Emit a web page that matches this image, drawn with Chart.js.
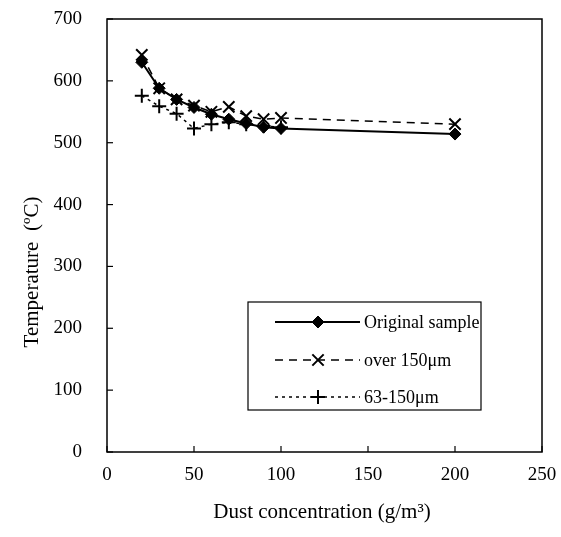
<!DOCTYPE html>
<html>
<head>
<meta charset="utf-8">
<script src="https://cdn.jsdelivr.net/npm/chart.js@4"></script>
<style>
  html, body { margin: 0; padding: 0; background: #fff; }
  #wrap { width: 561px; height: 537px; }
</style>
</head>
<body>
<div id="wrap"><canvas id="chartCanvas" width="561" height="537"></canvas></div>
<script>
// Dust concentration (g/m3)
const concOriginal = [20, 30, 40, 50, 60, 70, 80, 90, 100, 200];
const concOver150 = [20, 30, 40, 50, 60, 70, 80, 90, 100, 200];
const concFine = [20, 30, 40, 50, 60, 70, 80, 90, 100];

// Minimum ignition temperature (C)
const tempOriginal = [630, 588, 570, 557, 546, 538, 531, 525, 523, 514];
const tempOver150 = [642, 588, 570, 560, 550, 558, 543, 538, 540, 530];
const tempFine = [576, 559, 547, 523, 530, 533, 530, 527, 525];

const seriesLabels = ['Original sample', 'over 150\u03bcm', '63-150\u03bcm'];
const xTicks = [0, 50, 100, 150, 200, 250];
const yTicks = [0, 100, 200, 300, 400, 500, 600, 700];

const FONT = '"Liberation Serif", "Times New Roman", serif';

function toPoints(xs, ys) {
  return xs.map((x, i) => ({ x: x, y: ys[i] }));
}

// box around the plot, inward ticks, axis titles and the legend box
const framePlugin = {
  id: 'frame',
  afterDraw(chart) {
    const ctx = chart.ctx;
    const area = chart.chartArea;
    const xs = chart.scales.x;
    const ys = chart.scales.y;
    ctx.save();
    ctx.strokeStyle = '#000';
    ctx.lineWidth = 1.5;
    ctx.strokeRect(area.left, area.top, area.right - area.left, area.bottom - area.top);

    ctx.lineWidth = 1.2;
    yTicks.forEach(v => {
      const py = ys.getPixelForValue(v);
      ctx.beginPath();
      ctx.moveTo(area.left, py);
      ctx.lineTo(area.left + 6, py);
      ctx.stroke();
    });
    xTicks.forEach(v => {
      const px = xs.getPixelForValue(v);
      ctx.beginPath();
      ctx.moveTo(px, area.bottom);
      ctx.lineTo(px, area.bottom - 6);
      ctx.stroke();
    });

    // axis titles
    ctx.fillStyle = '#000';
    ctx.font = '21px ' + FONT;
    ctx.textAlign = 'center';
    ctx.textBaseline = 'middle';
    ctx.fillText('Dust concentration (g/m\u00b3)', 322, 512);
    ctx.save();
    ctx.translate(32, 272);
    ctx.rotate(-Math.PI / 2);
    ctx.fillText('Temperature  (\u00baC)', 0, 0);
    ctx.restore();

    // legend
    const lx = 248, ly = 302, lw = 233, lh = 108;
    ctx.lineWidth = 1.2;
    ctx.strokeRect(lx, ly, lw, lh);
    const rows = [322, 360, 397];
    ctx.font = '18px ' + FONT;
    ctx.textAlign = 'left';
    chart.data.datasets.forEach((ds, i) => {
      const y = rows[i];
      ctx.save();
      ctx.strokeStyle = '#000';
      ctx.lineWidth = ds.borderWidth;
      ctx.setLineDash(ds.borderDash || []);
      ctx.beginPath();
      ctx.moveTo(275, y);
      ctx.lineTo(360, y);
      ctx.stroke();
      ctx.setLineDash([]);
      Chart.helpers.drawPoint(ctx, {
        pointStyle: ds.pointStyle,
        radius: ds.pointRadius,
        borderWidth: ds.pointBorderWidth,
        rotation: 0
      }, 318, y);
      ctx.restore();
      ctx.fillStyle = '#000';
      ctx.fillText(seriesLabels[i], 364, y + 1);
    });
    ctx.restore();
  }
};

// drawPoint needs fill/stroke styles set on the context
Chart.helpers.drawPoint = (function (orig) {
  return function (ctx, options, x, y) {
    ctx.fillStyle = '#000';
    ctx.strokeStyle = '#000';
    ctx.lineWidth = options.borderWidth;
    return orig(ctx, options, x, y);
  };
})(Chart.helpers.drawPoint);

new Chart(document.getElementById('chartCanvas'), {
  type: 'scatter',
  data: {
    datasets: [
      {
        label: seriesLabels[0],
        data: toPoints(concOriginal, tempOriginal),
        showLine: true,
        borderColor: '#000',
        backgroundColor: '#000',
        borderWidth: 2,
        pointStyle: 'rectRot',
        pointRadius: 6,
        pointBorderWidth: 1,
        pointBackgroundColor: '#000',
        pointBorderColor: '#000'
      },
      {
        label: seriesLabels[1],
        data: toPoints(concOver150, tempOver150),
        showLine: true,
        borderColor: '#000',
        backgroundColor: '#000',
        borderWidth: 1.5,
        borderDash: [8, 6],
        pointStyle: 'crossRot',
        pointRadius: 8,
        pointBorderWidth: 2,
        pointBorderColor: '#000'
      },
      {
        label: seriesLabels[2],
        data: toPoints(concFine, tempFine),
        showLine: true,
        borderColor: '#000',
        backgroundColor: '#000',
        borderWidth: 1.5,
        borderDash: [3, 4],
        pointStyle: 'cross',
        pointRadius: 7,
        pointBorderWidth: 2,
        pointBorderColor: '#000'
      }
    ]
  },
  options: {
    responsive: false,
    animation: false,
    layout: { padding: { top: 19, right: 19, left: 0, bottom: 0 } },
    plugins: {
      legend: { display: false },
      tooltip: { enabled: false }
    },
    scales: {
      x: {
        type: 'linear',
        min: 0,
        max: 250,
        afterBuildTicks: s => { s.ticks = xTicks.map(v => ({ value: v })); },
        afterFit: s => { s.height = 85; s.paddingLeft = 0; s.paddingRight = 0; },
        grid: { display: false, drawTicks: false },
        border: { display: false },
        ticks: { color: '#000', padding: 12, font: { family: FONT, size: 19 } }
      },
      y: {
        type: 'linear',
        min: 0,
        max: 700,
        afterBuildTicks: s => { s.ticks = yTicks.map(v => ({ value: v })); },
        afterFit: s => { s.width = 107; s.paddingTop = 0; s.paddingBottom = 0; },
        grid: { display: false, drawTicks: false },
        border: { display: false },
        ticks: { color: '#000', padding: 25, font: { family: FONT, size: 19 } }
      }
    }
  },
  plugins: [framePlugin]
});
</script>
</body>
</html>
